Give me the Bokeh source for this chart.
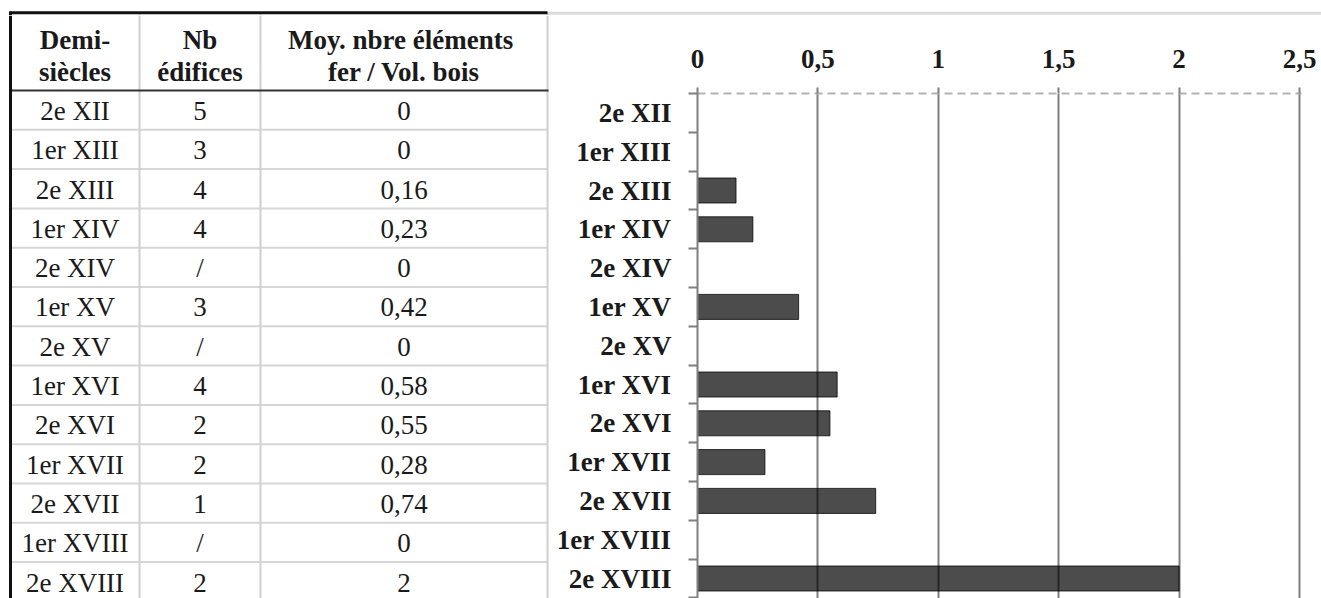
from bokeh.plotting import figure
from bokeh.models import Range1d, FixedTicker, ColumnDataSource
from bokeh.layouts import row, column
from bokeh.core.properties import value
from bokeh.embed import file_html
from bokeh.resources import INLINE

# ---------------- data ----------------
periods = ["2e XII", "1er XIII", "2e XIII", "1er XIV", "2e XIV", "1er XV", "2e XV",
           "1er XVI", "2e XVI", "1er XVII", "2e XVII", "1er XVIII", "2e XVIII"]
nb_edifices = ["5", "3", "4", "4", "/", "3", "/", "4", "2", "2", "1", "/", "2"]
ratio = [0, 0, 0.16, 0.23, 0, 0.42, 0, 0.58, 0.55, 0.28, 0.74, 0, 2]
header_line1 = ["Demi-", "Nb", "Moy.  nbre éléments"]
header_line2 = ["siècles", "édifices", "fer / Vol. bois"]
x_ticks = [0, 0.5, 1, 1.5, 2, 2.5]
x_tick_labels = ["0", "0,5", "1", "1,5", "2", "2,5"]

def fr(v):
    return f"{v:g}".replace(".", ",")

ratio_labels = [fr(v) for v in ratio]

FONT = "Liberation Serif"
TXT = "#1a1a1a"
W = 1321
H = 598
n = len(periods)

STRIP = 15            # height of the top rule strip
W1 = 550              # width of the table part
x_left, x_c1, x_c2, x_right = 10, 139, 260, 547
col_centers = [(x_left + x_c1) / 2, (x_c1 + x_c2) / 2, (x_c2 + x_right) / 2]

# ---------------- top strip (table top border + light rule) ----------------
s = figure(width=W, height=STRIP, x_range=Range1d(0, W), y_range=Range1d(STRIP, 0),
           toolbar_location=None, output_backend="svg", min_border=0)
s.frame_align = False
s.axis.visible = False
s.grid.visible = False
s.outline_line_color = None
s.segment(x0=[x_right], x1=[W], y0=[12.8], y1=[12.8], line_color="#dcdcdc", line_width=3)
s.segment(x0=[x_c1, x_c2, x_right], x1=[x_c1, x_c2, x_right], y0=[12] * 3, y1=[STRIP] * 3,
          line_color="#cfcfcf", line_width=2)
s.segment(x0=[x_left], x1=[x_left], y0=[11], y1=[STRIP], line_color="#111111", line_width=3)
s.segment(x0=[9], x1=[x_right], y0=[12.3], y1=[12.3], line_color="#111111", line_width=3)

# ---------------- table (left) ----------------
PITCH = 39.3          # px per row
HDR_BOT = 90          # page px of header bottom rule
H1 = H - STRIP
ytop = (STRIP - HDR_BOT) / PITCH
ybot = (H - HDR_BOT) / PITCH
def ry(px):  # page px -> row units
    return (px - HDR_BOT) / PITCH

t = figure(width=W1, height=H1, x_range=Range1d(0, W1), y_range=Range1d(ybot, ytop),
           toolbar_location=None, output_backend="svg", min_border=0)
t.frame_align = False
t.axis.visible = False
t.grid.visible = False
t.outline_line_color = None

t.segment(x0=[x_left] * (n - 1), x1=[x_right] * (n - 1),
          y0=list(range(1, n)), y1=list(range(1, n)), line_color="#d6d6d6", line_width=2)
t.segment(x0=[x_c1, x_c2, x_right], x1=[x_c1, x_c2, x_right],
          y0=[ytop] * 3, y1=[ybot] * 3, line_color="#cfcfcf", line_width=2)
t.segment(x0=[x_left], x1=[x_right + 1], y0=[0], y1=[0], line_color="#333333", line_width=2)
t.segment(x0=[x_left], x1=[x_left], y0=[ytop], y1=[ybot], line_color="#111111", line_width=3)

hdr = ColumnDataSource(dict(x=col_centers, t1=header_line1, t2=header_line2))
t.text(x="x", y=ry(39.5), text="t1", source=hdr, text_align="center",
       text_baseline="middle", text_font=value(FONT), text_font_style="bold",
       text_font_size="27px", text_color=TXT)
t.text(x="x", y=ry(71), text="t2", source=hdr, text_align="center",
       text_baseline="middle", text_font=value(FONT), text_font_style="bold",
       text_font_size="27px", text_color=TXT)

rows_y = [i + 0.52 for i in range(n)]
for cx, col in zip(col_centers, [periods, nb_edifices, ratio_labels]):
    src = ColumnDataSource(dict(x=[cx] * n, y=rows_y, s=col))
    t.text(x="x", y="y", text="s", source=src, text_align="center",
           text_baseline="middle", text_font=value(FONT),
           text_font_size="27px", text_color=TXT)

# ---------------- bar chart (right) ----------------
W2 = W - W1
CH_TOP = 93
CH_PITCH = 38.8
AX_X = 697
PX_PER_UNIT = 240.8
RIGHT_PAD = 20
y_end = (H - CH_TOP) / CH_PITCH
centers = [i + 0.5 for i in range(n)]
frame_w = W2 - (AX_X - W1) - RIGHT_PAD

p = figure(width=W2, height=H1, x_range=Range1d(0, frame_w / PX_PER_UNIT),
           y_range=Range1d(y_end, 0),
           x_axis_location="above", toolbar_location=None, output_backend="svg",
           min_border_left=AX_X - W1, min_border_right=RIGHT_PAD,
           min_border_top=CH_TOP - STRIP, min_border_bottom=0)
p.frame_align = False
p.outline_line_color = None

p.hbar(y=centers, left=0, right=ratio, height=0.645, fill_color="black", fill_alpha=0.7,
       line_color="black", line_alpha=0.75, line_width=1)

xa = p.xaxis[0]
xa.ticker = FixedTicker(ticks=x_ticks)
xa.major_label_overrides = {k: v for k, v in zip(x_ticks, x_tick_labels)}
xa.axis_line_color = "#b3b3b3"
xa.axis_line_width = 2
xa.axis_line_dash = "8 5"
xa.major_tick_out = 6
xa.major_tick_in = 0
xa.major_tick_line_color = "#7f7f7f"
xa.major_tick_line_width = 2
xa.minor_tick_line_color = None
xa.major_label_text_font = FONT
xa.major_label_text_font_style = "bold"
xa.major_label_text_font_size = "27px"
xa.major_label_text_color = TXT
xa.major_label_standoff = 20

ya = p.yaxis[0]
ya.ticker = FixedTicker(ticks=centers, minor_ticks=list(range(n + 1)))
ya.major_label_overrides = {c: lab for c, lab in zip(centers, periods)}
ya.axis_line_color = "#7f7f7f"
ya.axis_line_width = 2
ya.major_tick_out = 0
ya.major_tick_in = 0
ya.major_tick_line_color = None
ya.minor_tick_out = 9
ya.minor_tick_in = 0
ya.minor_tick_line_color = "#7f7f7f"
ya.minor_tick_line_width = 2
ya.major_label_text_font = FONT
ya.major_label_text_font_style = "bold"
ya.major_label_text_font_size = "27px"
ya.major_label_text_color = TXT
ya.major_label_standoff = 17

p.xgrid.ticker = FixedTicker(ticks=x_ticks)
p.xgrid.grid_line_color = "#7f7f7f"
p.xgrid.grid_line_width = 2
p.ygrid.grid_line_color = None

layout = column(s, row(t, p, spacing=0), spacing=0)
open("out.html", "w").write(file_html(layout, INLINE))
